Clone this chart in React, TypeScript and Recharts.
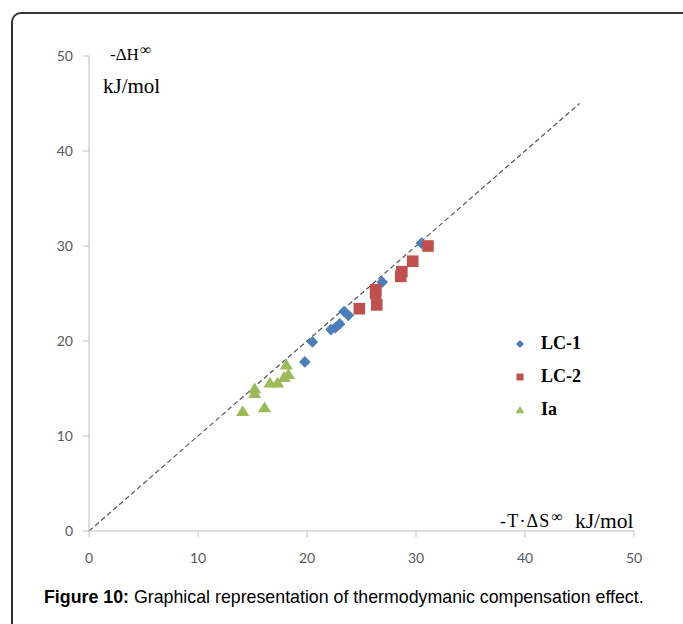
import React from "react";
import {
  ScatterChart,
  Scatter,
  XAxis,
  YAxis,
  ReferenceLine,
} from "recharts";

// values (−T·ΔS∞, −ΔH∞ in kJ/mol)
const lc1X = [30.5, 26.9, 23.4, 23.8, 22.2, 22.6, 23.0, 20.5, 19.8];
const lc1Y = [30.3, 26.2, 23.1, 22.7, 21.2, 21.4, 21.8, 19.9, 17.8];

const lc2X = [31.1, 29.7, 28.7, 28.6, 26.3, 26.3, 26.4, 24.8];
const lc2Y = [30.0, 28.4, 27.3, 26.8, 25.4, 25.0, 23.8, 23.4];

const iaX = [18.1, 18.3, 17.9, 17.3, 16.6, 15.2, 15.2, 16.1, 14.1];
const iaY = [17.5, 16.5, 16.2, 15.6, 15.6, 15.0, 14.5, 13.0, 12.6];

const ticks = [0, 10, 20, 30, 40, 50];
const diagonalEnd = 45;

const BLUE = "#4a7ebb";
const RED = "#c0504d";
const GREEN = "#9bbb59";

const toPoints = (xs: number[], ys: number[]) =>
  xs.map((x, i) => ({ x, y: ys[i] }));

const lc1 = toPoints(lc1X, lc1Y);
const lc2 = toPoints(lc2X, lc2Y);
const ia = toPoints(iaX, iaY);

function diamondPath(cx: number, cy: number, r: number) {
  return `M${cx},${cy - r}L${cx + r},${cy}L${cx},${cy + r}L${cx - r},${cy}Z`;
}
function squarePath(cx: number, cy: number, r: number) {
  return `M${cx - r},${cy - r}H${cx + r}V${cy + r}H${cx - r}Z`;
}
function trianglePath(cx: number, cy: number, r: number) {
  return `M${cx},${cy - r}L${cx + r * 1.1},${cy + r * 0.8}L${cx - r * 1.1},${cy + r * 0.8}Z`;
}

const Diamond = (p: any) => <path d={diamondPath(p.cx, p.cy, 5.8)} fill={BLUE} />;
const Square = (p: any) => <path d={squarePath(p.cx, p.cy, 5.8)} fill={RED} />;
const Triangle = (p: any) => <path d={trianglePath(p.cx, p.cy, 6)} fill={GREEN} />;

const legendItems = [
  { label: "LC-1", color: BLUE, path: (c: number) => diamondPath(c, c, 4) },
  { label: "LC-2", color: RED, path: (c: number) => squarePath(c, c, 3.5) },
  { label: "Ia", color: GREEN, path: (c: number) => trianglePath(c, c, 4) },
];

const serif = "'Liberation Serif', 'DejaVu Serif', serif";
const axisGrey = "#bfbfbf";
const tickStyle = { fontSize: 14, fill: "#595959", fontFamily: "Lato, 'Open Sans', sans-serif" };

const sup = { fontSize: 16, position: "relative" as const, top: -5, marginLeft: 1 };

export default function App() {
  return (
    <div
      style={{
        position: "absolute",
        left: 0,
        top: 0,
        width: 683,
        height: 624,
        overflow: "hidden",
        background: "#fff",
      }}
    >
      <div
        style={{
          position: "absolute",
          left: 11,
          top: 12,
          width: 720,
          height: 700,
          border: "2px solid #333",
          borderTopLeftRadius: 10,
        }}
      />
      <div style={{ position: "absolute", left: 0, top: 0 }}>
        <ScatterChart
          width={683}
          height={624}
          margin={{ top: 56, right: 49, bottom: 53, left: 39 }}
        >
          <XAxis
            type="number"
            dataKey="x"
            domain={[0, 50]}
            ticks={ticks}
            height={40}
            tickSize={6}
            tickMargin={16}
            tick={tickStyle}
            axisLine={{ stroke: axisGrey }}
            tickLine={{ stroke: axisGrey }}
          />
          <YAxis
            type="number"
            dataKey="y"
            domain={[0, 50]}
            ticks={ticks}
            width={50}
            tickSize={6}
            tickMargin={10}
            tick={tickStyle}
            axisLine={{ stroke: axisGrey }}
            tickLine={{ stroke: axisGrey }}
          />
          <ReferenceLine
            segment={[
              { x: 0, y: 0 },
              { x: diagonalEnd, y: diagonalEnd },
            ]}
            stroke="#555"
            strokeDasharray="5 3"
            strokeWidth={1.2}
          />
          <Scatter name="LC-1" data={lc1} shape={Diamond} isAnimationActive={false} />
          <Scatter name="LC-2" data={lc2} shape={Square} isAnimationActive={false} />
          <Scatter name="Ia" data={ia} shape={Triangle} isAnimationActive={false} />
        </ScatterChart>
      </div>

      {/* y axis title */}
      <div style={{ position: "absolute", left: 110, top: 46, fontFamily: serif, fontSize: 17, color: "#000", lineHeight: 1, whiteSpace: "nowrap" }}>
        -ΔH<span style={sup}>∞</span>
      </div>
      <div style={{ position: "absolute", left: 103, top: 76, fontFamily: serif, fontSize: 21, color: "#000", lineHeight: 1 }}>
        kJ/mol
      </div>

      {/* x axis title */}
      <div style={{ position: "absolute", left: 500, top: 512, fontFamily: serif, fontSize: 18, letterSpacing: 1.2, color: "#000", lineHeight: 1, whiteSpace: "nowrap" }}>
        -T·ΔS<span style={sup}>∞</span>
      </div>
      <div style={{ position: "absolute", left: 575, top: 511, fontFamily: serif, fontSize: 21.5, color: "#000", lineHeight: 1 }}>
        kJ/mol
      </div>

      {/* legend */}
      <div style={{ position: "absolute", left: 512, top: 327 }}>
        {legendItems.map((it) => (
          <div key={it.label} style={{ display: "flex", alignItems: "center", height: 33 }}>
            <svg width={16} height={16} style={{ marginRight: 13 }}>
              <path d={it.path(8)} fill={it.color} />
            </svg>
            <span style={{ fontFamily: serif, fontWeight: "bold", fontSize: 18, color: "#000" }}>{it.label}</span>
          </div>
        ))}
      </div>

      {/* caption */}
      <div
        style={{
          position: "absolute",
          left: 44,
          top: 587,
          fontFamily: "'Liberation Sans', Arial, sans-serif",
          fontSize: 17.8,
          color: "#000",
          whiteSpace: "nowrap",
        }}
      >
        <b>Figure 10:</b> Graphical representation of thermodymanic compensation effect.
      </div>
    </div>
  );
}
